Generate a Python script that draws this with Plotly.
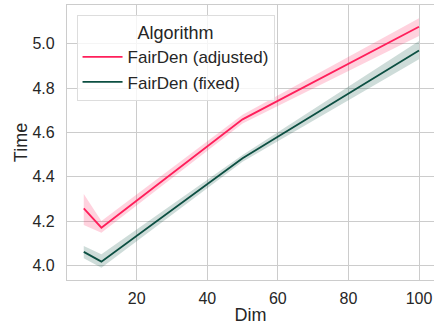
import plotly.graph_objects as go

dims = [5, 10, 50, 100]
adj_mean = [4.257, 4.170, 4.659, 5.077]
adj_low = [4.182, 4.147, 4.640, 5.035]
adj_high = [4.322, 4.200, 4.680, 5.115]
fix_mean = [4.061, 4.017, 4.483, 4.970]
fix_low = [4.032, 3.989, 4.468, 4.930]
fix_high = [4.087, 4.050, 4.498, 5.013]

series = [
    ("FairDen (adjusted)", adj_mean, adj_low, adj_high, "#ff1f5b", "rgba(255,31,91,0.2)"),
    ("FairDen (fixed)", fix_mean, fix_low, fix_high, "#0c4f42", "rgba(12,79,66,0.2)"),
]

fig = go.Figure()
for name, m, lo, hi, col, fill in series:
    fig.add_trace(go.Scatter(x=dims, y=hi, mode="lines", line=dict(width=0), showlegend=False, hoverinfo="skip"))
    fig.add_trace(go.Scatter(x=dims, y=lo, mode="lines", line=dict(width=0), fill="tonexty",
                             fillcolor=fill, showlegend=False, hoverinfo="skip"))
    fig.add_trace(go.Scatter(x=dims, y=m, mode="lines", name=name, line=dict(color=col, width=1.8)))

font = dict(family="Liberation Sans, Arial, sans-serif", size=16, color="#262626")
fig.update_layout(
    width=434, height=330,
    margin=dict(l=67, r=0, t=5, b=50),
    paper_bgcolor="white", plot_bgcolor="white",
    font=font,
    legend=dict(
        title=dict(text="Algorithm", side="top center", font=dict(size=18)),
        x=0.026, y=0.964, xanchor="left", yanchor="top",
        traceorder="normal",
        bgcolor="rgba(255,255,255,0.8)", bordercolor="#dddddd", borderwidth=1,
        font=dict(size=17), tracegroupgap=0, itemwidth=40,
    ),
    xaxis=dict(
        range=[0.25, 104.25], tickvals=[20, 40, 60, 80, 100],
        showgrid=True, gridcolor="#cccccc", gridwidth=1,
        showline=True, linecolor="#cccccc", linewidth=1.2, mirror=True,
        zeroline=False, ticks="", ticklen=0, ticklabelstandoff=4, automargin=False,
        title=dict(text="Dim", standoff=2, font=dict(size=18)),
    ),
    yaxis=dict(
        range=[3.934, 5.175], tickvals=[4.0, 4.2, 4.4, 4.6, 4.8, 5.0], tickformat=".1f",
        showgrid=True, gridcolor="#cccccc", gridwidth=1,
        showline=True, linecolor="#cccccc", linewidth=1.2, mirror=True,
        zeroline=False, ticks="", ticklen=0, ticklabelstandoff=8, automargin=False,
        title=dict(text="Time", standoff=0, font=dict(size=18)),
    ),
)

fig.write_html("out.html", config={"displayModeBar": False},
               post_script="document.body.style.margin='0';")
